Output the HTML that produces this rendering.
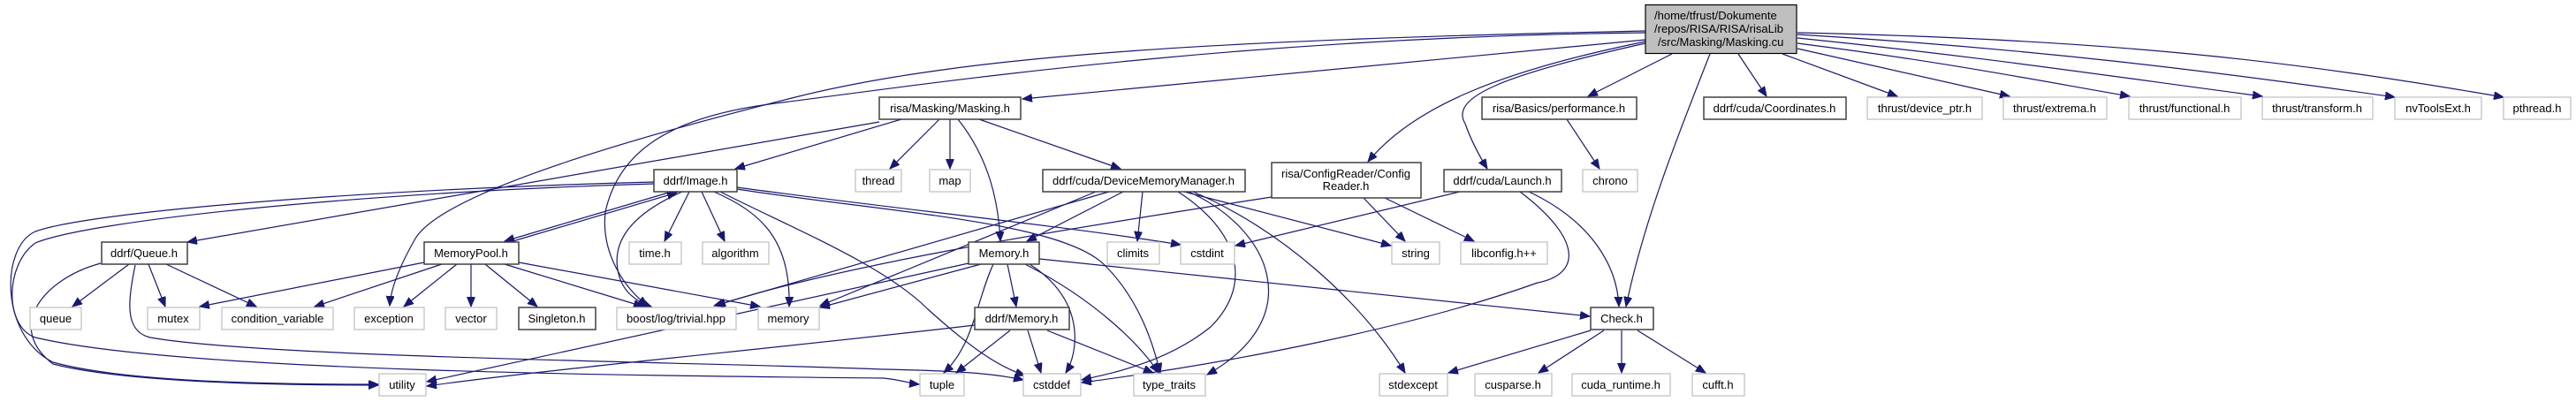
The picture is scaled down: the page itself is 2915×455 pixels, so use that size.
<!DOCTYPE html>
<html><head><meta charset="utf-8"><style>
html,body{margin:0;padding:0;background:#fff;}
svg{display:block;}
text{font-family:"Liberation Sans",Arial,sans-serif;font-size:13px;fill:#000;}
.e{fill:none;stroke:#191970;stroke-width:1.2;}
.n{fill:#fff;stroke:#404040;stroke-width:1.5;}
.x{fill:#fff;stroke:#bfbfbf;stroke-width:1.2;}
</style></head><body>
<svg width="2915" height="455" viewBox="0 0 2915 455" xmlns="http://www.w3.org/2000/svg">
<defs>
<marker id="a" markerUnits="userSpaceOnUse" markerWidth="12" markerHeight="10" refX="11" refY="4.5" orient="auto">
<path d="M0,0 L11,4.5 L0,9 z" fill="#191970" stroke="#191970"/>
</marker>
</defs>
<g marker-end="url(#a)">
<!-- Masking.cu edges -->
<path class="e" d="M1862,45 L1157,112"/>
<path class="e" d="M1862,35 C1400,45 1100,60 900,110 C700,160 500,220 470,270 C450,305 442,330 441,346"/>
<path class="e" d="M1862,37 C1400,42 1050,95 870,118 C760,133 700,170 685,240 C680,285 705,325 733,346"/>
<path class="e" d="M1862,47 C1700,80 1600,120 1548,183"/>
<path class="e" d="M1862,49 C1700,85 1640,110 1658,140 C1665,160 1675,178 1683,191"/>
<path class="e" d="M1892,61 L1797,109"/>
<path class="e" d="M1935,61 C1900,150 1860,250 1840,347"/>
<path class="e" d="M1967,61 L1999,109"/>
<path class="e" d="M2017,61 L2147,109"/>
<path class="e" d="M2034,55 L2274,109"/>
<path class="e" d="M2034,49 C2200,70 2300,90 2410,109"/>
<path class="e" d="M2034,43 C2250,65 2400,88 2560,109"/>
<path class="e" d="M2034,39 C2300,55 2500,80 2710,110"/>
<path class="e" d="M2034,37 C2400,45 2600,70 2833,110"/>
<!-- Masking.h -->
<path class="e" d="M995,138 L212,274"/>
<path class="e" d="M1020,135 L832,191"/>
<path class="e" d="M1063,135 L1007,191"/>
<path class="e" d="M1075,135 L1075,191"/>
<path class="e" d="M1084,135 C1120,180 1130,230 1132,273"/>
<path class="e" d="M1108,135 L1268,191"/>
<!-- Image.h -->
<path class="e" d="M760,217 L571,273"/>
<path class="e" d="M577,274 L766,218"/>
<path class="e" d="M780,217 L752,273"/>
<path class="e" d="M794,217 L820,273"/>
<path class="e" d="M808,217 C860,240 895,270 893,347"/>
<path class="e" d="M772,217 C720,240 690,270 700,310 C705,330 718,340 737,347"/>
<path class="e" d="M834,212 C1000,235 1200,255 1336,277"/>
<path class="e" d="M834,214 C1000,240 1200,250 1250,300 C1290,340 1305,390 1313,422"/>
<path class="e" d="M815,217 C900,260 1000,300 1050,350 C1100,395 1130,415 1160,425"/>
<path class="e" d="M740,206 C400,215 100,240 40,262 C0,280 0,380 60,410 C150,435 350,435 428,435"/>
<path class="e" d="M740,208 C400,218 100,250 40,275 C5,300 5,370 40,382 C200,420 700,425 1000,428 C1020,430 1030,434 1040,435"/>
<!-- Queue.h -->
<path class="e" d="M146,299 L82,347"/>
<path class="e" d="M168,299 L187,347"/>
<path class="e" d="M188,299 L290,347"/>
<path class="e" d="M114,298 C50,315 5,370 60,412 C150,435 350,436 428,436"/>
<path class="e" d="M153,300 C145,340 140,375 170,382 C300,405 800,410 1000,418 C1100,420 1130,424 1158,430"/>
<!-- MemoryPool -->
<path class="e" d="M480,297 L226,347"/>
<path class="e" d="M500,299 L356,347"/>
<path class="e" d="M517,299 L457,347"/>
<path class="e" d="M533,299 L533,347"/>
<path class="e" d="M549,299 L608,347"/>
<path class="e" d="M571,299 L728,347"/>
<path class="e" d="M587,297 L860,347"/>
<!-- DeviceMemoryManager -->
<path class="e" d="M1271,217 L1162,273"/>
<path class="e" d="M1293,217 L1287,273"/>
<path class="e" d="M1255,217 L808,346"/>
<path class="e" d="M1240,217 L928,346"/>
<path class="e" d="M1333,217 C1400,260 1420,320 1370,370 C1320,410 1260,422 1224,430"/>
<path class="e" d="M1345,217 C1440,260 1480,360 1366,424"/>
<path class="e" d="M1350,217 C1450,260 1540,340 1590,422"/>
<path class="e" d="M1340,217 L1574,278"/>
<!-- ConfigReader -->
<path class="e" d="M1543,224 L1590,273"/>
<path class="e" d="M1567,224 L1668,273"/>
<path class="e" d="M1439,223 C1200,260 950,300 810,346"/>
<!-- Launch -->
<path class="e" d="M1652,217 L1398,278"/>
<path class="e" d="M1730,217 C1800,250 1830,300 1832,347"/>
<path class="e" d="M1720,217 C1790,270 1790,310 1740,320 C1600,370 1400,410 1224,433"/>
<!-- performance -->
<path class="e" d="M1773,135 L1810,191"/>
<!-- Memory.h -->
<path class="e" d="M1140,299 L1150,347"/>
<path class="e" d="M1124,299 C1105,340 1102,390 1068,422"/>
<path class="e" d="M1165,299 C1230,340 1220,400 1206,422"/>
<path class="e" d="M1160,299 C1240,340 1290,390 1311,422"/>
<path class="e" d="M1176,293 L1799,358"/>
<path class="e" d="M1096,298 L483,432"/>
<path class="e" d="M1110,299 L928,348"/>
<!-- ddrf/Memory.h -->
<path class="e" d="M1143,374 L1082,422"/>
<path class="e" d="M1163,374 L1178,422"/>
<path class="e" d="M1185,374 L1305,422"/>
<path class="e" d="M1103,368 C900,392 600,420 483,437"/>
<!-- Check.h -->
<path class="e" d="M1800,374 L1639,422"/>
<path class="e" d="M1815,374 L1741,422"/>
<path class="e" d="M1835,374 L1835,422"/>
<path class="e" d="M1853,374 L1930,422"/>
</g>

<!-- nodes -->
<rect x="1862" y="5.5" width="171" height="55" fill="#bfbfbf" stroke="#000" stroke-width="1.2"/>
<text x="1872" y="22">/home/tfrust/Dokumente</text>
<text x="1872" y="37">/repos/RISA/RISA/risaLib</text>
<text x="1876" y="52">/src/Masking/Masking.cu</text>

<g text-anchor="middle">
<rect class="n" x="995" y="110" width="160" height="25"/><text x="1075" y="127">risa/Masking/Masking.h</text>
<rect class="n" x="1677" y="110" width="175" height="25"/><text x="1764" y="127">risa/Basics/performance.h</text>
<rect class="n" x="1928" y="110" width="161" height="25"/><text x="2008" y="127">ddrf/cuda/Coordinates.h</text>
<rect class="x" x="2113" y="110" width="130" height="25"/><text x="2178" y="127">thrust/device_ptr.h</text>
<rect class="x" x="2267" y="110" width="117" height="25"/><text x="2325" y="127">thrust/extrema.h</text>
<rect class="x" x="2409" y="110" width="127" height="25"/><text x="2472" y="127">thrust/functional.h</text>
<rect class="x" x="2560" y="110" width="125" height="25"/><text x="2622" y="127">thrust/transform.h</text>
<rect class="x" x="2710" y="110" width="98" height="25"/><text x="2759" y="127">nvToolsExt.h</text>
<rect class="x" x="2833" y="110" width="76" height="25"/><text x="2871" y="127">pthread.h</text>

<rect class="n" x="740" y="192" width="94" height="25"/><text x="787" y="209">ddrf/Image.h</text>
<rect class="x" x="968" y="192" width="52" height="25"/><text x="994" y="209">thread</text>
<rect class="x" x="1052" y="192" width="46" height="25"/><text x="1075" y="209">map</text>
<rect class="n" x="1180" y="192" width="229" height="25"/><text x="1294" y="209">ddrf/cuda/DeviceMemoryManager.h</text>
<rect class="n" x="1439" y="184" width="169" height="40"/><text x="1523" y="201">risa/ConfigReader/Config</text><text x="1523" y="215">Reader.h</text>
<rect class="n" x="1634" y="192" width="133" height="25"/><text x="1700" y="209">ddrf/cuda/Launch.h</text>
<rect class="x" x="1791" y="192" width="62" height="25"/><text x="1822" y="209">chrono</text>

<rect class="n" x="115" y="274" width="97" height="25"/><text x="163" y="291">ddrf/Queue.h</text>
<rect class="n" x="480" y="274" width="107" height="25"/><text x="533" y="291">MemoryPool.h</text>
<rect class="x" x="712" y="274" width="59" height="25"/><text x="741" y="291">time.h</text>
<rect class="x" x="795" y="274" width="75" height="25"/><text x="832" y="291">algorithm</text>
<rect class="n" x="1096" y="274" width="80" height="25"/><text x="1136" y="291">Memory.h</text>
<rect class="x" x="1253" y="274" width="59" height="25"/><text x="1282" y="291">climits</text>
<rect class="x" x="1336" y="274" width="61" height="25"/><text x="1366" y="291">cstdint</text>
<rect class="x" x="1575" y="274" width="54" height="25"/><text x="1602" y="291">string</text>
<rect class="x" x="1653" y="274" width="98" height="25"/><text x="1702" y="291">libconfig.h++</text>

<rect class="x" x="34" y="348" width="58" height="25"/><text x="63" y="365">queue</text>
<rect class="x" x="167" y="348" width="59" height="25"/><text x="196" y="365">mutex</text>
<rect class="x" x="251" y="348" width="126" height="25"/><text x="314" y="365">condition_variable</text>
<rect class="x" x="401" y="348" width="79" height="25"/><text x="440" y="365">exception</text>
<rect class="x" x="504" y="348" width="58" height="25"/><text x="533" y="365">vector</text>
<rect class="n" x="587" y="348" width="87" height="25"/><text x="630" y="365">Singleton.h</text>
<rect class="x" x="698" y="348" width="135" height="25"/><text x="765" y="365">boost/log/trivial.hpp</text>
<rect class="x" x="858" y="348" width="69" height="25"/><text x="892" y="365">memory</text>
<rect class="n" x="1103" y="348" width="107" height="25"/><text x="1156" y="365">ddrf/Memory.h</text>
<rect class="n" x="1800" y="348" width="71" height="25"/><text x="1835" y="365">Check.h</text>

<rect class="x" x="429" y="423" width="53" height="25"/><text x="455" y="440">utility</text>
<rect class="x" x="1041" y="423" width="50" height="25"/><text x="1066" y="440">tuple</text>
<rect class="x" x="1158" y="423" width="65" height="25"/><text x="1190" y="440">cstddef</text>
<rect class="x" x="1283" y="423" width="81" height="25"/><text x="1323" y="440">type_traits</text>
<rect class="x" x="1561" y="423" width="77" height="25"/><text x="1599" y="440">stdexcept</text>
<rect class="x" x="1669" y="423" width="87" height="25"/><text x="1712" y="440">cusparse.h</text>
<rect class="x" x="1779" y="423" width="111" height="25"/><text x="1834" y="440">cuda_runtime.h</text>
<rect class="x" x="1915" y="423" width="59" height="25"/><text x="1944" y="440">cufft.h</text>
</g>
</svg>
</body></html>
